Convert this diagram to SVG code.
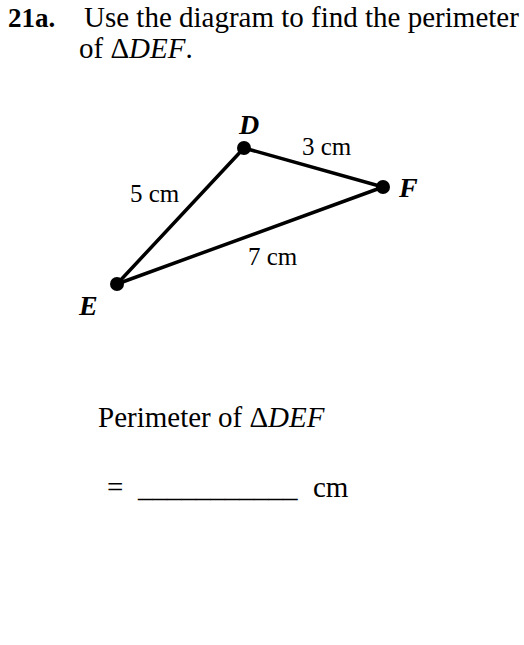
<svg xmlns="http://www.w3.org/2000/svg" width="524" height="645" viewBox="0 0 524 645">
<style>
  text { font-family: "Liberation Serif", "Times New Roman", serif; fill: #000; }
  .big { font-size: 29px; }
  .lbl { font-size: 25px; }
  .vtx { font-size: 28px; font-weight: bold; font-style: italic; }
  .edge { stroke: #000; stroke-width: 3.5; fill: none; stroke-linecap: round; }
  .dot { fill: #000; }
</style>
<rect width="524" height="645" fill="#fff"/>
<g id="title">
  <text class="big" x="8" y="27"><tspan font-weight="bold" font-size="27">21a.</tspan><tspan x="84">Use the diagram to find the perimeter</tspan></text>
  <text class="big" x="79" y="58">of Δ<tspan font-style="italic">DEF</tspan>.</text>
</g>
<g id="connectors">
  <line class="edge" x1="244" y1="148" x2="383" y2="187"/>
  <line class="edge" x1="244" y1="148" x2="117" y2="284"/>
  <line class="edge" x1="117" y1="284" x2="383" y2="187"/>
  <text class="lbl" x="302" y="155">3 cm</text>
  <text class="lbl" x="130" y="202">5 cm</text>
  <text class="lbl" x="248" y="265">7 cm</text>
</g>
<g id="node-D">
  <circle class="dot" cx="244" cy="148" r="7"/>
  <text class="vtx" x="239" y="134">D</text>
</g>
<g id="node-F">
  <circle class="dot" cx="383" cy="187" r="7"/>
  <text class="vtx" x="399" y="197">F</text>
</g>
<g id="node-E">
  <circle class="dot" cx="117" cy="284" r="7"/>
  <text class="vtx" x="79" y="315">E</text>
</g>
<g id="answer">
  <text class="big" x="98" y="427">Perimeter of Δ<tspan font-style="italic">DEF</tspan></text>
  <text class="big" x="107" y="497">=<tspan x="138">___________</tspan><tspan x="313">cm</tspan></text>
</g>
</svg>
